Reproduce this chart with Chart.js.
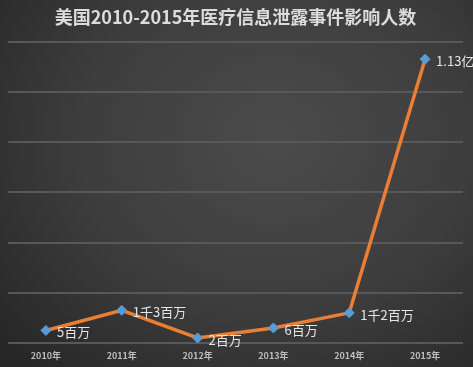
<!DOCTYPE html>
<html>
<head>
<meta charset="utf-8">
<script src="https://cdn.jsdelivr.net/npm/chart.js@4/dist/chart.umd.min.js"></script>
<style>
  html, body { margin: 0; padding: 0; }
  body {
    width: 473px; height: 367px; overflow: hidden;
    background: radial-gradient(ellipse 75% 85% at 58% 38%, #4b4b4b 0%, #3d3d3d 55%, #272727 100%);
  }
  #wrap { width: 473px; height: 367px; }
</style>
</head>
<body>
<div id="wrap"><canvas id="leak"></canvas></div>
<script>
// 单位：百万人
var years = ['2010年', '2011年', '2012年', '2013年', '2014年', '2015年'];
var affected = [5, 13, 2, 6, 12, 113];
var pointLabels = ['5百万', '1千3百万', '2百万', '6百万', '1千2百万', '1.13亿'];

const FONT = '"Noto Sans CJK SC", "Noto Sans", sans-serif';

// draw the value labels next to each point
const valueLabels = {
  id: 'valueLabels',
  afterDatasetsDraw(chart) {
    const ctx = chart.ctx;
    const meta = chart.getDatasetMeta(0);
    ctx.save();
    ctx.font = '13px ' + FONT;
    ctx.fillStyle = '#e6e6e6';
    ctx.textAlign = 'left';
    ctx.textBaseline = 'middle';
    meta.data.forEach(function (pt, i) {
      ctx.fillText(pointLabels[i], pt.x + 11, pt.y + 2);
    });
    ctx.restore();
  }
};

new Chart(document.getElementById('leak'), {
  type: 'line',
  data: {
    labels: years,
    datasets: [{
      data: affected,
      borderColor: '#ea7e34',
      borderWidth: 3.5,
      tension: 0,
      pointStyle: 'rectRot',
      pointRadius: 5,
      pointBackgroundColor: '#5b9bd5',
      pointBorderColor: '#5b9bd5',
      pointBorderWidth: 1
    }]
  },
  options: {
    responsive: true,
    maintainAspectRatio: false,
    animation: false,
    layout: { padding: { left: 8, right: 10, top: 0, bottom: 0 } },
    plugins: {
      legend: { display: false },
      tooltip: { enabled: false },
      title: {
        display: true,
        text: '美国2010-2015年医疗信息泄露事件影响人数',
        color: '#dcdcdc',
        font: { family: FONT, size: 18, weight: 'bold', lineHeight: 1.2 },
        padding: { top: 6, bottom: 14 }
      }
    },
    scales: {
      x: {
        offset: true,
        afterFit: function (s) { s.height = 24; },
        grid: { display: false, drawTicks: false },
        border: { display: false },
        ticks: {
          color: '#bdbdbd',
          font: { family: FONT, size: 9, weight: 'bold' },
          padding: 7
        }
      },
      y: {
        min: 0,
        max: 120,
        afterFit: function (s) { s.width = 0; },
        grid: { color: '#585858', lineWidth: 2, drawTicks: false },
        border: { display: false },
        ticks: { display: false, stepSize: 20 }
      }
    }
  },
  plugins: [valueLabels]
});
</script>
</body>
</html>
